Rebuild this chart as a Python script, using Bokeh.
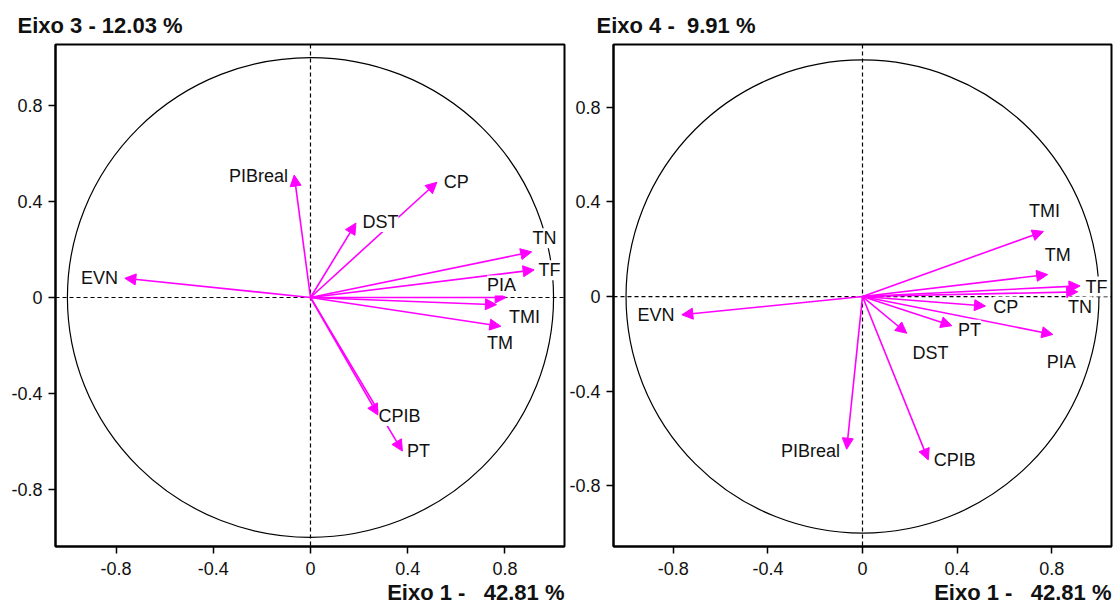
from bokeh.plotting import figure
from bokeh.models import ColumnDataSource, Arrow, NormalHead, LabelSet, Span, FixedTicker, Title, Range1d
from bokeh.layouts import row
from bokeh.core.properties import value
from bokeh.embed import file_html
from bokeh.resources import INLINE

# ---- data ----
variables = ["PIBreal", "CP", "DST", "TN", "TF", "PIA", "TMI", "TM", "EVN", "CPIB", "PT"]
eixo1 = [-0.067, 0.52, 0.187, 0.91, 0.92, 0.805, 0.765, 0.783, -0.764, 0.278, 0.378]
eixo3 = [0.51, 0.48, 0.31, 0.19, 0.115, 0.0, -0.03, -0.12, 0.08, -0.49, -0.64]
eixo4 = [-0.645, -0.04, -0.155, 0.02, 0.045, -0.16, 0.275, 0.093, -0.077, -0.69, -0.123]

# label centres (data units)
lab_x3 = [-0.214, 0.60, 0.288, 0.963, 0.983, 0.786, 0.88, 0.78, -0.868, 0.366, 0.444]
lab_y3 = [0.506, 0.48, 0.314, 0.247, 0.113, 0.05, -0.08, -0.19, 0.08, -0.494, -0.64]
lab_x4 = [-0.22, 0.606, 0.288, 0.92, 0.99, 0.84, 0.77, 0.826, -0.873, 0.39, 0.453]
lab_y4 = [-0.653, -0.042, -0.237, -0.042, 0.042, -0.275, 0.36, 0.174, -0.08, -0.69, -0.14]

tick_values = [-0.8, -0.4, 0, 0.4, 0.8]
tick_labels = ["-0.8", "-0.4", "0", "0.4", "0.8"]

title_left = "Eixo 3 - 12.03 %"
title_right = "Eixo 4 -  9.91 %"
xlabel = "Eixo 1 -   42.81 %"

MAG = "#FF00FF"
FONT = "Liberation Sans"
TXT = "#111111"


def keep_spaces(s):
    # keep runs of spaces visible in SVG text
    return s.replace("   ", "\u00a0\u00a0 ").replace("  ", "\u00a0 ")


def panel(yvals, lx, ly, ttl, xr, yr, fw, fh, bl, br, bt, toff, tstand, bstand):
    p = figure(frame_width=fw, frame_height=fh,
               x_range=Range1d(*xr), y_range=Range1d(*yr),
               output_backend="svg", toolbar_location=None,
               min_border_left=bl, min_border_right=br, min_border_top=bt,
               min_border_bottom=0, title=keep_spaces(ttl))
    p.grid.visible = False
    p.outline_line_color = "black"
    p.outline_line_width = 2
    p.title.align = "left"
    p.title.offset = toff
    p.title.text_font = FONT
    p.title.text_font_size = "22px"
    p.title.text_font_style = "bold"
    p.title.text_color = TXT
    p.title.standoff = tstand
    for ax in (p.xaxis[0], p.yaxis[0]):
        ax.ticker = FixedTicker(ticks=tick_values)
        ax.major_label_overrides = {v: s for v, s in zip(tick_values, tick_labels)}
        ax.major_tick_out = 7
        ax.major_tick_in = 0
        ax.minor_tick_out = 0
        ax.minor_tick_in = 0
        ax.axis_line_color = "black"
        ax.axis_line_width = 2
        ax.major_tick_line_width = 1.5
        ax.major_tick_line_color = "black"
        ax.major_label_text_font = FONT
        ax.major_label_text_font_size = "18px"
        ax.major_label_text_color = TXT
    p.xaxis[0].major_label_standoff = 8
    p.yaxis[0].major_label_standoff = 6

    p.ellipse(x=0, y=0, width=2, height=2, fill_color=None,
              line_color="black", line_width=1.2)
    p.add_layout(Span(location=0, dimension="width", line_color="black",
                      line_dash="4 3", line_width=1.2))
    p.add_layout(Span(location=0, dimension="height", line_color="black",
                      line_dash="4 3", line_width=1.2))

    n = len(variables)
    src = ColumnDataSource(dict(x0=[0] * n, y0=[0] * n, x1=eixo1, y1=yvals,
                                lx=lx, ly=ly, name=variables))
    p.add_layout(Arrow(end=NormalHead(size=11, fill_color=MAG, line_color=MAG, line_width=1),
                       x_start="x0", y_start="y0", x_end="x1", y_end="y1",
                       source=src, line_color=MAG, line_width=1.6))
    p.add_layout(LabelSet(x="lx", y="ly", text="name", source=src,
                          text_align="center", text_baseline="middle",
                          text_font=value(FONT), text_font_size="18px", text_color=TXT,
                          background_fill_color="white"))
    p.add_layout(Title(text=keep_spaces(xlabel), align="right",
                       text_font=FONT, text_font_size="22px", text_font_style="bold",
                       text_color=TXT, standoff=bstand), "below")
    return p


# frames of both panels share top (44 px) and height (502 px) since a row aligns them
left = panel(eixo3, lab_x3, lab_y3, title_left, (-1.049, 1.045), (-1.0375, 1.054),
             509, 502, 55, 2, 44, -38, 14, 0)
right = panel(eixo4, lab_x4, lab_y4, title_right, (-1.053, 1.053), (-1.056, 1.065),
              498, 502, 46, 4, 44, -17, 14, 0)

layout = row(left, right)
open("out.html", "w").write(file_html(layout, INLINE))
